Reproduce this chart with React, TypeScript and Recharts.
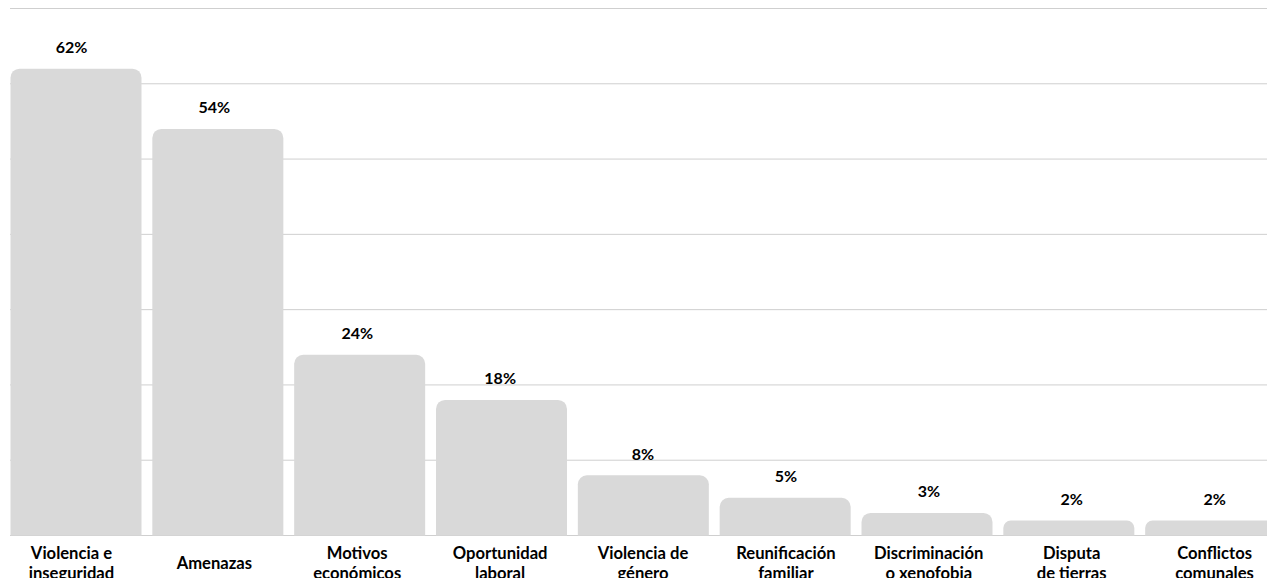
import { BarChart, Bar, XAxis, YAxis, CartesianGrid, LabelList } from 'recharts';

// Motivos de desplazamiento (% de respuestas)
const motivos = [
  'Violencia e\ninseguridad',
  'Amenazas',
  'Motivos\neconómicos',
  'Oportunidad\nlaboral',
  'Violencia de\ngénero',
  'Reunificación\nfamiliar',
  'Discriminación\no xenofobia',
  'Disputa\nde tierras',
  'Conflictos\ncomunales',
];
const porcentajes = [62, 54, 24, 18, 8, 5, 3, 2, 2];
const yTicks = [0, 10, 20, 30, 40, 50, 60, 70];

const data = motivos.map((motivo, i) => ({ motivo, valor: porcentajes[i] }));

const FONT = 'Lato, "Open Sans", sans-serif';

// category labels can span two lines, centred on the same middle
const MotivoTick = ({ x, y, payload }: any) => {
  const lines = String(payload.value).split('\n');
  const first = y + 33.4 - (lines.length - 1) * 10.2;
  return (
    <text x={x} textAnchor="middle" fontFamily={FONT} fontWeight={700} fontSize={16.6} fill="#000">
      {lines.map((line: string, i: number) => (
        <tspan key={i} x={x} y={first + i * 20.4}>
          {line}
        </tspan>
      ))}
    </text>
  );
};

const ValorLabel = ({ x, y, width, value }: any) => (
  <text
    x={x + width / 2}
    y={y - 15.7}
    textAnchor="middle"
    fontFamily={FONT}
    fontWeight={700}
    fontSize={16}
    fill="#000"
  >
    {`${value}%`}
  </text>
);

export default function App() {
  return (
    <div style={{ margin: -8, width: 1275, height: 586, overflow: 'hidden', background: '#fff' }}>
      <BarChart
        width={1286}
        height={586}
        data={data}
        margin={{ top: 8.5, right: 0, left: 0, bottom: 20.5 }}
      >
        <CartesianGrid vertical={false} stroke="#cfcfcf" strokeWidth={1} x={10} width={1276} />
        <YAxis hide domain={[0, 70]} ticks={yTicks} />
        {/* bars sit on a slightly tighter band than the text labels */}
        <XAxis
          xAxisId="barras"
          dataKey="motivo"
          hide
          height={0}
          padding={{ left: 5.5, right: 4 }}
        />
        <XAxis
          xAxisId="textos"
          dataKey="motivo"
          height={30}
          interval={0}
          axisLine={false}
          tickLine={false}
          tickSize={0}
          tickMargin={0}
          tick={<MotivoTick />}
        />
        <Bar
          xAxisId="barras"
          dataKey="valor"
          fill="#d9d9d9"
          barSize={131}
          radius={[9, 9, 0, 0]}
          isAnimationActive={false}
        />
        <Bar
          xAxisId="textos"
          dataKey="valor"
          fill="none"
          barSize={131}
          isAnimationActive={false}
        >
          <LabelList dataKey="valor" content={<ValorLabel />} />
        </Bar>
      </BarChart>
    </div>
  );
}
